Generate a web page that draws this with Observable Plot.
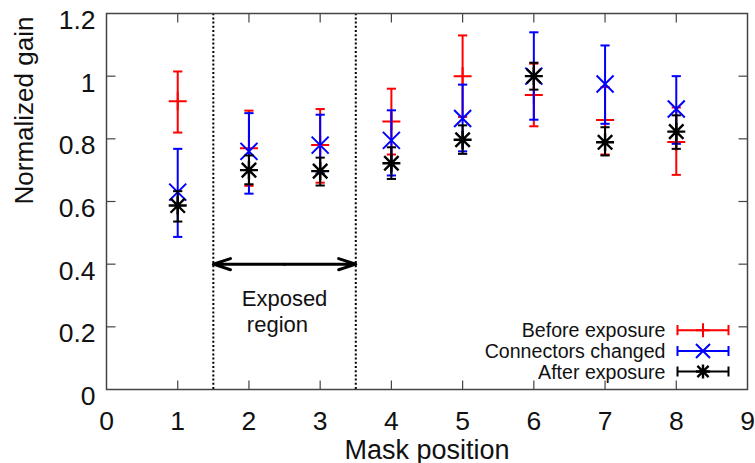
<!DOCTYPE html>
<html><head><meta charset="utf-8">
<script src="https://cdn.jsdelivr.net/npm/d3@7"></script>
<script src="https://cdn.jsdelivr.net/npm/@observablehq/plot@0.6"></script>
<style>body{margin:0;background:#fff}</style>
</head><body><div id="chart"></div>
<script>
// ---- data ----
const positions = [1, 2, 3, 4, 5, 6, 7, 8];

const beforeVal = [0.92, 0.77, 0.78, 0.855, 1.00, 0.94, 0.86, 0.79];
const beforeLo  = [0.82, 0.65, 0.66, 0.75, 0.87, 0.84, 0.75, 0.685];
const beforeHi  = [1.015, 0.89, 0.895, 0.96, 1.13, 1.04, 0.965, 0.90];

const connVal = [0.63, 0.76, 0.78, 0.795, 0.865, 1.00, 0.975, 0.895];
const connLo  = [0.487, 0.625, 0.69, 0.683, 0.76, 0.861, 0.848, 0.784];
const connHi  = [0.768, 0.882, 0.877, 0.891, 0.973, 1.14, 1.098, 1.00];

const afterVal = [0.587, 0.70, 0.697, 0.722, 0.797, 1.00, 0.789, 0.823];
const afterLo  = [0.536, 0.655, 0.651, 0.672, 0.752, 0.957, 0.747, 0.768];
const afterHi  = [0.633, 0.747, 0.740, 0.773, 0.843, 1.043, 0.837, 0.875];

const seriesNames = ["Before exposure", "Connectors changed", "After exposure"];
const seriesColors = ["#ff0000", "#0000ff", "#000000"];

const xTicks = [0, 1, 2, 3, 4, 5, 6, 7, 8, 9];
const yTicks = [0, 0.2, 0.4, 0.6, 0.8, 1, 1.2];
const innerXTicks = [1, 2, 3, 4, 5, 6, 7, 8];
const innerYTicks = [0.2, 0.4, 0.6, 0.8, 1];

const regionBounds = [1.5, 3.5];
const regionArrowY = 0.4;
const regionLabels = [
  {text: "Exposed", x: 2.5, y: 0.268},
  {text: "region", x: 2.4, y: 0.183}
];

// ---- symbols ----
const sym = (f) => ({draw(c, size) { const r = Math.sqrt(size / Math.PI); f(c, r); }});
const plusSym = sym((c, r) => { c.moveTo(-r, 0); c.lineTo(r, 0); c.moveTo(0, -r); c.lineTo(0, r); });
const timesSym = sym((c, r) => { c.moveTo(-r, -r); c.lineTo(r, r); c.moveTo(-r, r); c.lineTo(r, -r); });
const starSym = sym((c, r) => {
  c.moveTo(-r, 0); c.lineTo(r, 0); c.moveTo(0, -r); c.lineTo(0, r);
  const a = r * 0.8;
  c.moveTo(-a, -a); c.lineTo(a, a); c.moveTo(-a, a); c.lineTo(a, -a);
});
const capSym = sym((c, r) => { c.moveTo(-r, 0); c.lineTo(r, 0); });
const barSym = sym((c, r) => {
  const h = r * 0.2;
  c.moveTo(-r, 0); c.lineTo(r, 0);
  c.moveTo(-r, -h); c.lineTo(-r, h);
  c.moveTo(r, -h); c.lineTo(r, h);
});
const tickUp = sym((c, r) => { c.moveTo(0, 0); c.lineTo(0, -r); });
const tickDown = sym((c, r) => { c.moveTo(0, 0); c.lineTo(0, r); });
const tickRight = sym((c, r) => { c.moveTo(0, 0); c.lineTo(r, 0); });
const tickLeft = sym((c, r) => { c.moveTo(0, 0); c.lineTo(-r, 0); });

const seriesSymbols = [plusSym, timesSym, starSym];
const seriesR = [9, 8.5, 9];
const seriesW = [2, 2, 2.4];

const tables = [
  [beforeVal, beforeLo, beforeHi],
  [connVal, connLo, connHi],
  [afterVal, afterLo, afterHi]
].map(([v, lo, hi], s) => positions.map((p, i) => ({x: p, v: v[i], lo: lo[i], hi: hi[i], s})));

const seriesMarks = tables.flatMap((rows, s) => [
  Plot.ruleX(rows, {x: "x", y1: "lo", y2: "hi", stroke: seriesColors[s], strokeWidth: 2}),
  Plot.dot(rows, {x: "x", y: "lo", symbol: capSym, r: 4.6, stroke: seriesColors[s], fill: "none", strokeWidth: 2}),
  Plot.dot(rows, {x: "x", y: "hi", symbol: capSym, r: 4.6, stroke: seriesColors[s], fill: "none", strokeWidth: 2}),
  Plot.dot(rows, {x: "x", y: "v", symbol: seriesSymbols[s], r: seriesR[s], stroke: seriesColors[s], fill: "none", strokeWidth: seriesW[s]})
]);

const legendTextDy = [-58.5, -37.7, -17.2];
const legendMarkDy = [-59.3, -38.5, -18];
const legendMarks = seriesNames.flatMap((name, s) => [
  Plot.text([name], {frameAnchor: "bottom-right", dx: -82, dy: legendTextDy[s], text: d => d,
    textAnchor: "end", lineAnchor: "middle", fontSize: 19.6, fill: "#111"}),
  Plot.dot([name], {frameAnchor: "bottom-right", dx: -44.5, dy: legendMarkDy[s], symbol: barSym, r: 25.5,
    stroke: seriesColors[s], fill: "none", strokeWidth: 2}),
  Plot.dot([name], {frameAnchor: "bottom-right", dx: -44.5, dy: legendMarkDy[s], symbol: seriesSymbols[s], r: 7,
    stroke: seriesColors[s], fill: "none", strokeWidth: seriesW[s]})
]);

const frameColor = "#444";

const chart = Plot.plot({
  width: 755,
  height: 463,
  marginLeft: 106,
  marginRight: 8,
  marginTop: 13,
  marginBottom: 74,
  style: {fontFamily: "'Liberation Sans', Arial, sans-serif", background: "#fff", color: "#111"},
  x: {domain: [0, 9], axis: null},
  y: {domain: [0, 1.2], axis: null},
  marks: [
    // inside ticks on all four sides
    Plot.dot(innerXTicks, {x: d => d, y: () => 0, symbol: tickUp, r: 9, stroke: frameColor, strokeWidth: 1.2}),
    Plot.dot(innerXTicks, {x: d => d, y: () => 1.2, symbol: tickDown, r: 9, stroke: frameColor, strokeWidth: 1.2}),
    Plot.dot(innerYTicks, {x: () => 0, y: d => d, symbol: tickRight, r: 9, stroke: frameColor, strokeWidth: 1.2}),
    Plot.dot(innerYTicks, {x: () => 9, y: d => d, symbol: tickLeft, r: 9, stroke: frameColor, strokeWidth: 1.2}),
    Plot.axisX({ticks: xTicks, tickSize: 0, tickPadding: 22, fontSize: 26.5, label: null, tickFormat: d => String(d)}),
    Plot.axisY({ticks: yTicks, tickSize: 0, tickPadding: 11, fontSize: 26.5, label: null, dy: 7, tickFormat: d => String(d)}),
    Plot.text(["Mask position"], {frameAnchor: "bottom", dy: 69, lineAnchor: "bottom", fontSize: 27, text: d => d}),
    Plot.text(["Normalized gain"], {frameAnchor: "left", dx: -74, dy: 3, rotate: -90, lineAnchor: "bottom", fontSize: 26, text: d => d}),
    // exposed region
    Plot.ruleX(regionBounds, {x: d => d, y1: 0, y2: 1.2, stroke: "#000", strokeWidth: 2, strokeDasharray: "2,2.2"}),
    Plot.arrow([regionBounds], {x1: d => (d[0] + d[1]) / 2, x2: d => d[0], y1: regionArrowY, y2: regionArrowY,
      stroke: "#000", strokeWidth: 3, headLength: 9, headAngle: 36}),
    Plot.arrow([regionBounds], {x1: d => (d[0] + d[1]) / 2, x2: d => d[1], y1: regionArrowY, y2: regionArrowY,
      stroke: "#000", strokeWidth: 3, headLength: 9, headAngle: 36}),
    Plot.text(regionLabels, {x: "x", y: "y", text: "text", lineAnchor: "bottom", fontSize: 22, fill: "#111"}),
    ...seriesMarks,
    ...legendMarks,
    Plot.frame({stroke: frameColor, strokeWidth: 1.5})
  ]
});
document.getElementById("chart").append(chart);
</script>
</body></html>
